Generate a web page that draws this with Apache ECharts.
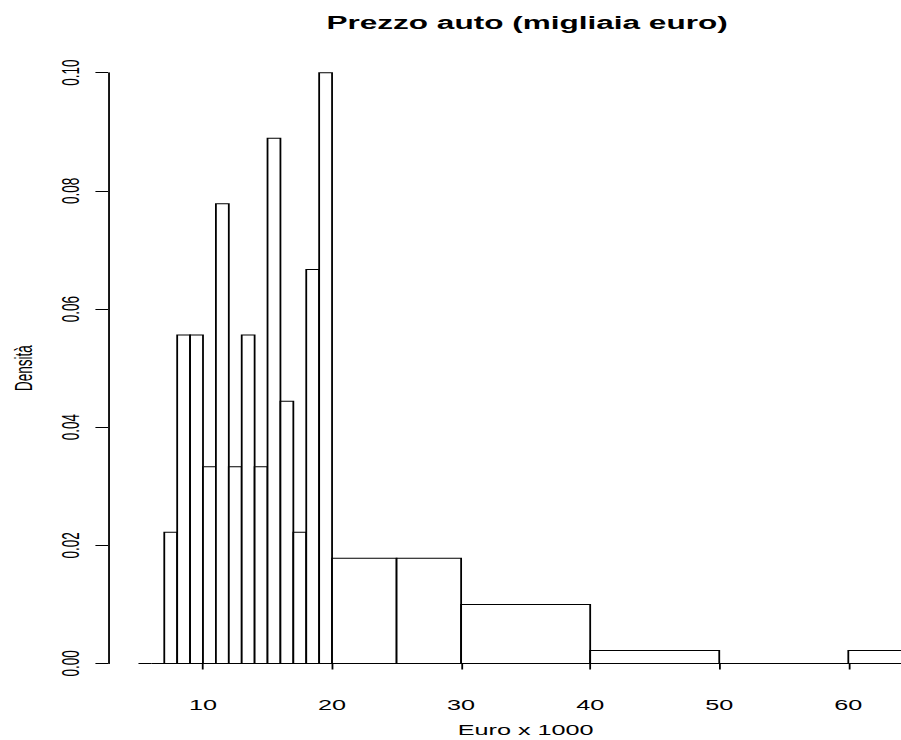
<!DOCTYPE html>
<html>
<head>
<meta charset="utf-8">
<script src="https://cdn.jsdelivr.net/npm/echarts@6/dist/echarts.min.js"></script>
<style>
  html, body { margin: 0; padding: 0; background: #fff; overflow: hidden; }
  #chart { width: 500px; height: 740px; transform: scaleX(1.802); transform-origin: 0 0; }
</style>
</head>
<body>
<div id="chart"></div>
<script>
// Histogram bins (migliaia euro) and densities
const binStart = [5, 6, 7, 8, 9, 10, 11, 12, 13, 14, 15, 16, 17, 18, 19, 20, 25, 30, 40, 50, 60];
const binEnd   = [6, 7, 8, 9, 10, 11, 12, 13, 14, 15, 16, 17, 18, 19, 20, 25, 30, 40, 50, 60, 65];
const density  = [0, 0, 0.0222, 0.0556, 0.0556, 0.0333, 0.0778, 0.0333, 0.0556, 0.0333, 0.0889,
                  0.0444, 0.0222, 0.0667, 0.1, 0.0178, 0.0178, 0.01, 0.0022, 0, 0.0022];
const xTicks = [10, 20, 30, 40, 50, 60];
const yTicks = [0, 0.02, 0.04, 0.06, 0.08, 0.10];

const titleText = 'Prezzo auto (migliaia euro)';
const xName = 'Euro x 1000';
const yName = 'Densità';

const data = binStart.map((s, i) => [s, binEnd[i], density[i]]);
const FONT = '"Liberation Sans", Arial, Helvetica, sans-serif';

const chart = echarts.init(document.getElementById('chart'), null, { renderer: 'svg' });
chart.setOption({
  animation: false,
  backgroundColor: '#ffffff',
  textStyle: { fontFamily: FONT, color: '#000' },
  title: {
    text: titleText,
    left: 292.5,
    top: 14,
    padding: 0,
    textAlign: 'center',
    textStyle: { fontFamily: FONT, fontWeight: 'bold', fontSize: 17.5, color: '#000' }
  },
  grid: { left: 112.65, right: 29.24, top: 72.7, bottom: 76.5, containLabel: false, outerBoundsMode: 'none' },
  xAxis: {
    type: 'value',
    min: xTicks[0],
    max: xTicks[xTicks.length - 1],
    interval: 10,
    offset: 24,
    splitLine: { show: false },
    axisLine: { show: true, lineStyle: { color: '#000', width: 1 } },
    axisTick: { show: true, inside: false, length: 6, lineStyle: { color: '#000', width: 1 } },
    axisLabel: { show: true, margin: 11, fontSize: 14, color: '#000', fontFamily: FONT },
    name: xName,
    nameLocation: 'middle',
    nameGap: 36,
    nameTextStyle: { fontSize: 14, color: '#000', fontFamily: FONT }
  },
  yAxis: {
    type: 'value',
    min: yTicks[0],
    max: yTicks[yTicks.length - 1],
    interval: 0.02,
    offset: 52.7,
    splitLine: { show: false },
    axisLine: { show: true, lineStyle: { color: '#000', width: 1 } },
    axisTick: { show: true, inside: false, length: 7, lineStyle: { color: '#000', width: 1 } },
    axisLabel: { show: true, rotate: 90, margin: 14, fontSize: 13.5, color: '#000', fontFamily: FONT,
      formatter: v => v.toFixed(2) },
    name: yName,
    nameLocation: 'middle',
    nameRotate: 90,
    nameGap: 40,
    nameTextStyle: { fontSize: 13.5, color: '#000', fontFamily: FONT }
  },
  series: [{
    type: 'custom',
    clip: false,
    data: data,
    renderItem: function (params, api) {
      const p0 = api.coord([api.value(0), api.value(2)]);
      const p1 = api.coord([api.value(1), 0]);
      return {
        type: 'rect',
        shape: { x: p0[0], y: p0[1], width: p1[0] - p0[0], height: p1[1] - p0[1] },
        style: { fill: '#ffffff', stroke: '#000000', lineWidth: 1 }
      };
    }
  }]
});
</script>
</body>
</html>
